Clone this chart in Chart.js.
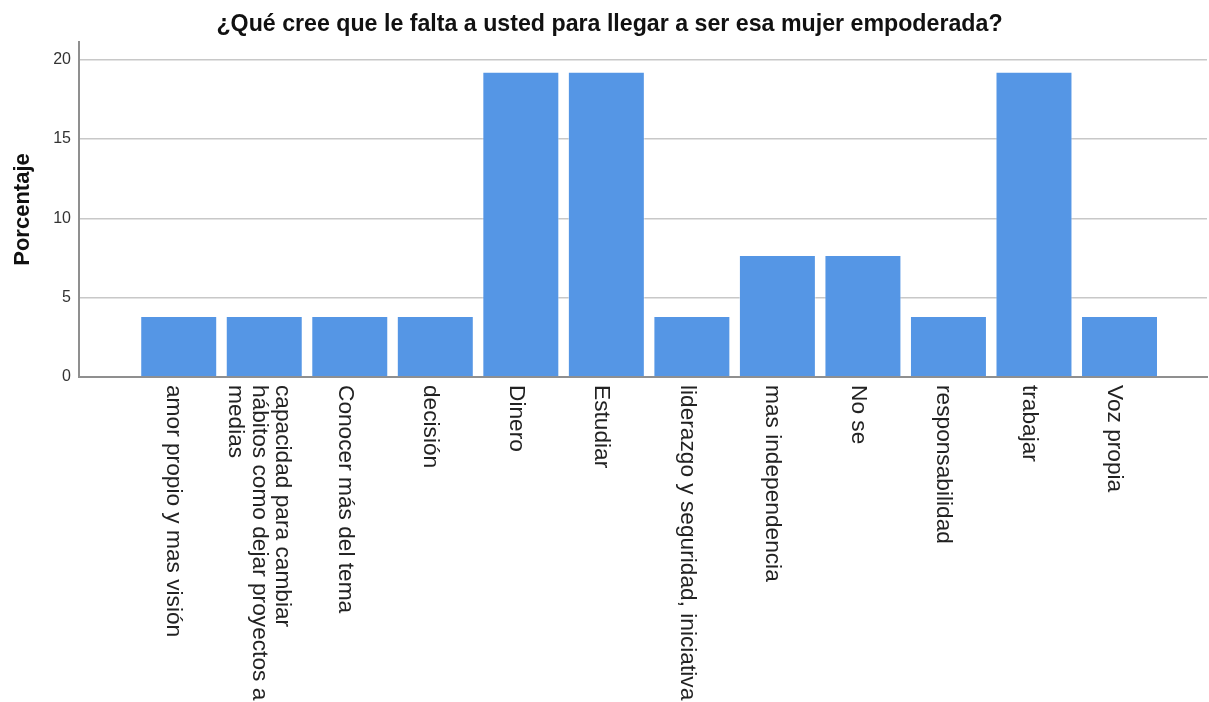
<!DOCTYPE html>
<html>
<head>
<meta charset="utf-8">
<script src="https://cdn.jsdelivr.net/npm/chart.js@4/dist/chart.umd.min.js"></script>
<style>
  body { margin: 0; background: #fff; }
  canvas { display: block; }
</style>
</head>
<body>
<canvas id="chart" width="1209" height="702"></canvas>
<script>
// categories and values (percent of 26 answers)
const categories = [
  ['amor propio y mas visión'],
  ['capacidad para cambiar', 'hábitos como dejar proyectos a', 'medias'],
  ['Conocer más del tema'],
  ['decisión'],
  ['Dinero'],
  ['Estudiar'],
  ['liderazgo y seguridad, iniciativa'],
  ['mas independencia'],
  ['No se'],
  ['responsabilidad'],
  ['trabajar'],
  ['Voz propia']
];
const percentages = [3.85, 3.85, 3.85, 3.85, 19.23, 19.23, 3.85, 7.69, 7.69, 3.85, 19.23, 3.85];
const yTicks = [0, 5, 10, 15, 20];

const chartTitle = '¿Qué cree que le falta a usted para llegar a ser esa mujer empoderada?';
const yTitle = 'Porcentaje';

const FONT = '"Liberation Sans", Arial, sans-serif';

// draws the category names rotated clockwise under the axis
const rotatedLabels = {
  id: 'rotatedLabels',
  afterDraw(chart) {
    const ctx = chart.ctx;
    const xs = chart.scales.x;
    const lineH = 23.5;
    ctx.save();
    ctx.font = '22.7px ' + FONT;
    ctx.fillStyle = '#222';
    ctx.textAlign = 'left';
    ctx.textBaseline = 'middle';
    categories.forEach((lines, i) => {
      const x = xs.getPixelForValue(i) - 5;
      const y = xs.top + 8;
      ctx.save();
      ctx.translate(x, y);
      ctx.rotate(Math.PI / 2);
      lines.forEach((line, j) => {
        const off = (j - (lines.length - 1) / 2) * lineH;
        ctx.fillText(line, 0, off);
      });
      ctx.restore();
    });
    ctx.restore();
  }
};

const ctx = document.getElementById('chart').getContext('2d');
const chart = new Chart(ctx, {
  type: 'bar',
  data: {
    datasets: [{
      label: yTitle,
      data: percentages.map((v, i) => ({ x: i, y: v })),
      backgroundColor: '#5596e5',
      borderColor: 'rgba(255,255,255,0.45)',
      borderWidth: 1,
      barPercentage: 0.9,
      categoryPercentage: 1
    }]
  },
  options: {
    responsive: false,
    animation: false,
    layout: { padding: { top: 0, right: 2, bottom: 0, left: 12 } },
    plugins: {
      legend: { display: false },
      tooltip: { enabled: false },
      title: {
        display: true,
        text: chartTitle,
        color: '#111',
        font: { family: FONT, size: 23.2, weight: 'bold' },
        padding: { top: 11, bottom: 3.2 }
      }
    },
    scales: {
      x: {
        type: 'linear',
        offset: false,
        min: -1.166,
        max: 12.023,
        ticks: { display: false },
        grid: { display: false },
        border: { display: true, color: '#8f8f8f', width: 2 },
        afterFit(scale) { scale.height = 325; }
      },
      y: {
        min: 0,
        max: 21.1,
        ticks: {
          stepSize: 5,
          padding: 8,
          color: '#333',
          font: { family: FONT, size: 16 }
        },
        afterBuildTicks(scale) {
          scale.ticks = yTicks.map(v => ({ value: v }));
        },
        grid: { color: '#c8c8c8', lineWidth: 1.5, drawTicks: false },
        border: { display: true, color: '#8f8f8f', width: 2 },
        title: {
          display: true,
          text: yTitle,
          color: '#111',
          font: { family: FONT, size: 22, weight: 'bold', lineHeight: 1 },
          padding: { top: 0, bottom: 0 }
        },
        afterFit(scale) { scale.width = 67; }
      }
    }
  },
  plugins: [rotatedLabels]
});
</script>
</body>
</html>
